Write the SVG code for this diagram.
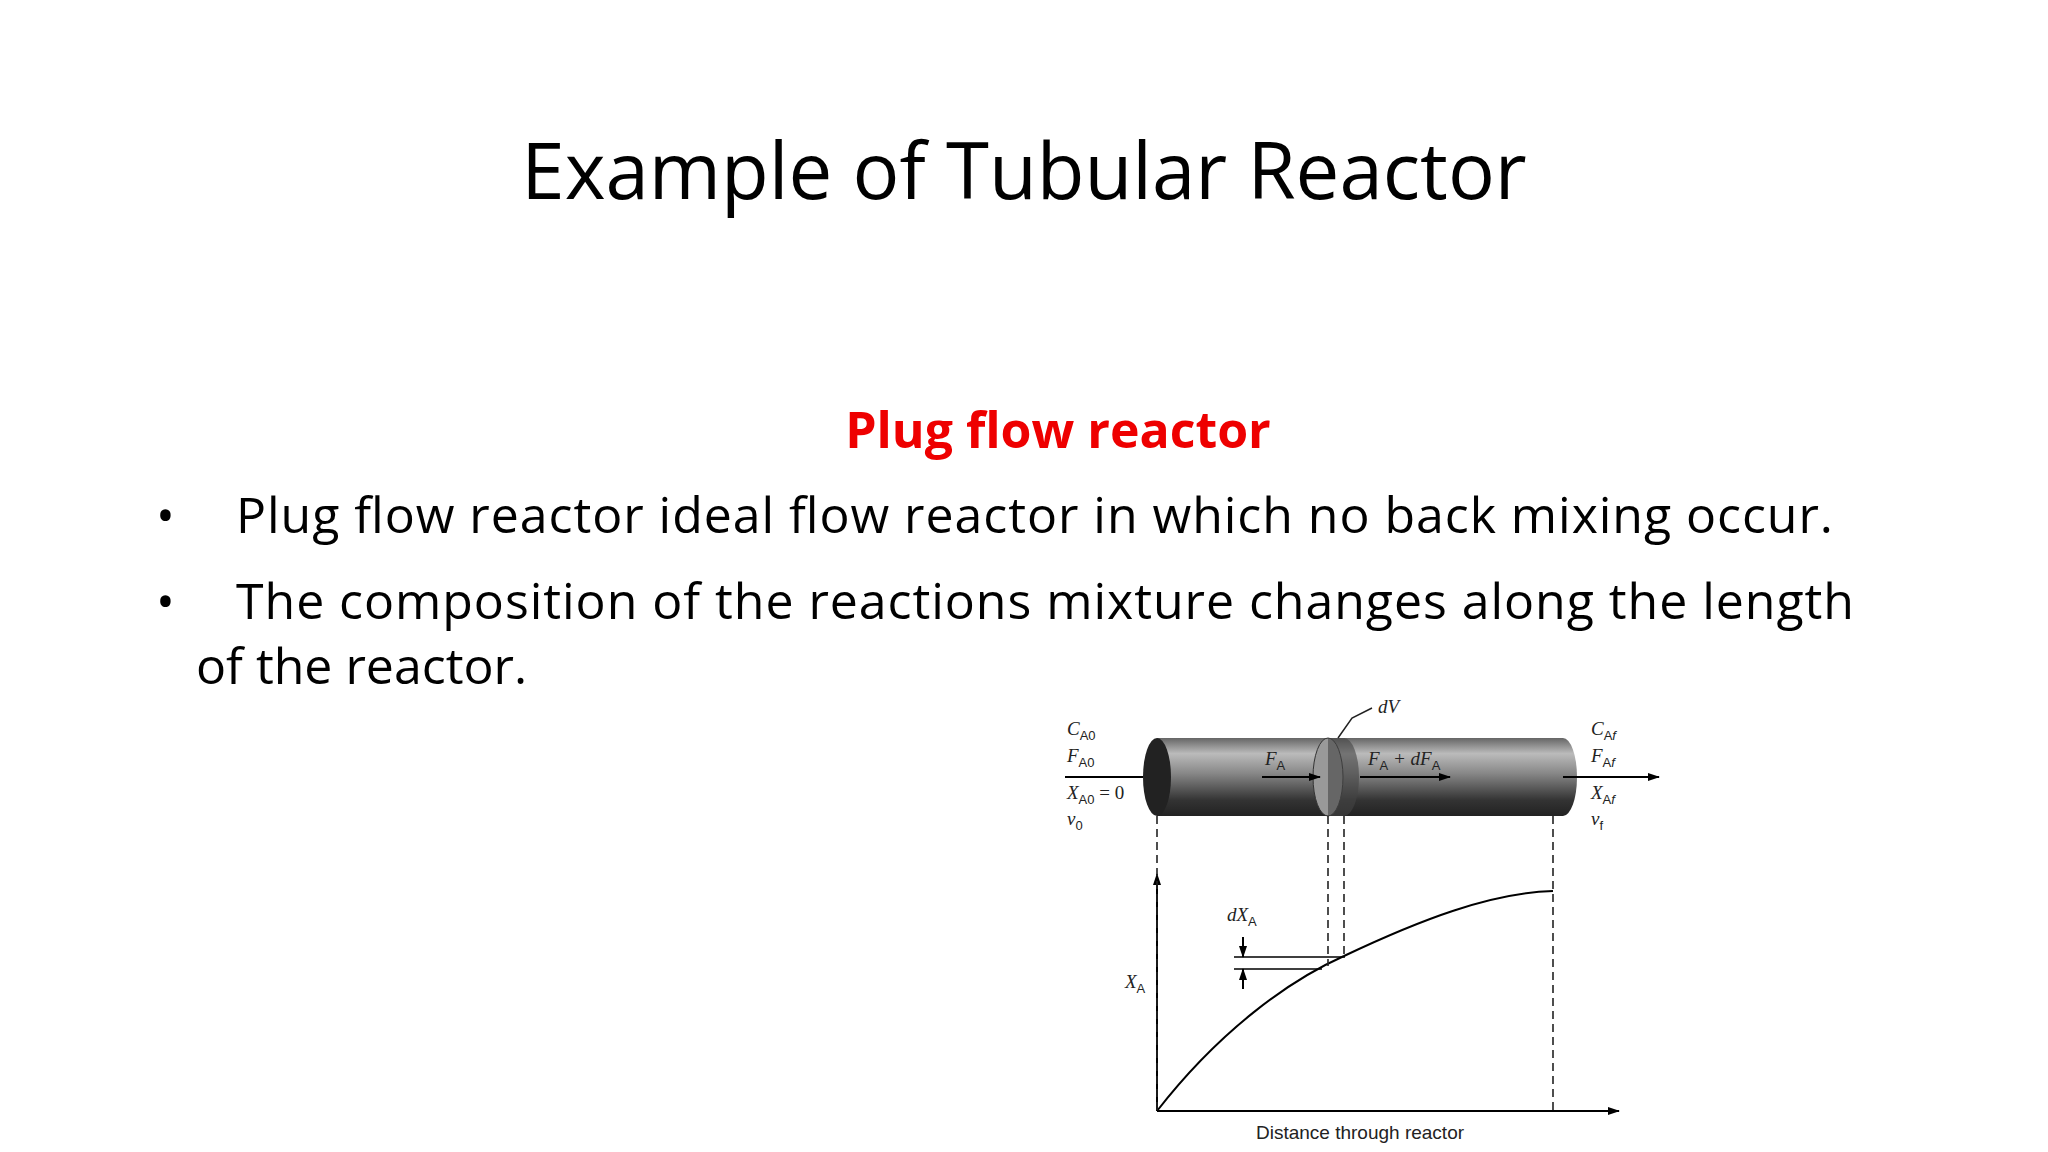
<svg xmlns="http://www.w3.org/2000/svg" width="2048" height="1152" viewBox="0 0 2048 1152">
<defs>
<linearGradient id="tube" x1="0" y1="0" x2="0" y2="1">
<stop offset="0" stop-color="#666"/><stop offset="0.2" stop-color="#bbb"/><stop offset="0.45" stop-color="#888"/><stop offset="0.8" stop-color="#333"/><stop offset="1" stop-color="#222"/>
</linearGradient>
<marker id="ah" markerWidth="12" markerHeight="8" refX="11" refY="4" orient="auto" markerUnits="userSpaceOnUse"><path d="M0,0 L12,4 L0,8 Z" fill="#000"/></marker>
<style>
.t{font-family:"Open Sans","Liberation Sans",sans-serif;fill:#000}
.m{font-family:"Liberation Serif",serif;font-style:italic;font-size:19px;fill:#222}
.s{font-size:13px;font-style:normal;font-family:"Liberation Sans",sans-serif}
.ln{stroke:#000;stroke-width:2;fill:none}
.d{stroke:#222;stroke-width:1.6;stroke-dasharray:8,5;fill:none}
</style>
</defs>
<rect width="2048" height="1152" fill="#fff"/>
<g id="title"><text class="t" x="1024" y="199" font-size="78" text-anchor="middle">Example of Tubular Reactor</text></g>
<g id="subtitle"><text x="1058" y="448" font-family="Open Sans,Liberation Sans,sans-serif" font-weight="bold" font-size="50" fill="#ee0000" text-anchor="middle">Plug flow reactor</text></g>
<g id="bullets">
<text class="t" x="156" y="533" font-size="50">•</text>
<text class="t" x="236" y="533" font-size="50" textLength="1597">Plug flow reactor ideal flow reactor in which no back mixing occur.</text>
<text class="t" x="156" y="619" font-size="50">•</text>
<text class="t" x="236" y="619" font-size="50" textLength="1618">The composition of the reactions mixture changes along the length</text>
<text class="t" x="196" y="684" font-size="50">of the reactor.</text>
</g>
<g id="reactor">
<path d="M1157,738 L1563,738 A14,39 0 0 1 1563,816 L1157,816 Z" fill="url(#tube)"/>
<ellipse cx="1157" cy="777" rx="14" ry="39" fill="#222"/>
<ellipse cx="1328" cy="777" rx="15" ry="39" fill="#999" stroke="#333"/>
<path d="M1328,738 L1344,738 A15,39 0 0 1 1344,816 L1328,816" fill="#444" opacity="0.6"/>
<path d="M1065,777 L1143,777" class="ln"/>
<path d="M1563,777 L1659,777" class="ln" marker-end="url(#ah)"/>
<path d="M1262,777 L1320,777" class="ln" marker-end="url(#ah)"/>
<path d="M1360,777 L1450,777" class="ln" marker-end="url(#ah)"/>
<text class="m" x="1265" y="765">F<tspan class="s" dy="5">A</tspan></text>
<text class="m" x="1368" y="765">F<tspan class="s" dy="5">A</tspan><tspan dy="-5"> + dF</tspan><tspan class="s" dy="5">A</tspan></text>
<path d="M1338,738 L1352,718 L1372,708" stroke="#222" stroke-width="1.5" fill="none"/>
<text class="m" x="1378" y="713">dV</text>
</g>
<g id="labels">
<text class="m" x="1067" y="735">C<tspan class="s" dy="5">A0</tspan></text>
<text class="m" x="1067" y="762">F<tspan class="s" dy="5">A0</tspan></text>
<text class="m" x="1067" y="799">X<tspan class="s" dy="5">A0</tspan><tspan dy="-5" font-style="normal"> = 0</tspan></text>
<text class="m" x="1067" y="825">v<tspan class="s" dy="5">0</tspan></text>
<text class="m" x="1591" y="735">C<tspan class="s" dy="5">A<tspan font-style="italic">f</tspan></tspan></text>
<text class="m" x="1591" y="762">F<tspan class="s" dy="5">A<tspan font-style="italic">f</tspan></tspan></text>
<text class="m" x="1591" y="799">X<tspan class="s" dy="5">A<tspan font-style="italic">f</tspan></tspan></text>
<text class="m" x="1591" y="825">v<tspan class="s" dy="5" font-style="italic">f</tspan></text>
</g>
<g id="plot">
<path d="M1157,1111 L1157,874" class="ln" marker-end="url(#ah)"/>
<path d="M1157,1111 L1619,1111" class="ln" marker-end="url(#ah)"/>
<path d="M1157,1111 C1220,1030 1290,980 1344,956 C1420,920 1490,893 1553,891" class="ln" stroke-width="2.6"/>
<path d="M1157,816 V1111 M1328,816 V966 M1344,816 V956 M1553,816 V1111" class="d"/>
<path d="M1234,957 H1345 M1234,969 H1322" stroke="#000" stroke-width="1.5"/>
<path d="M1243,937 V957" class="ln" stroke-width="1.5" marker-end="url(#ah)"/>
<path d="M1243,989 V969" class="ln" stroke-width="1.5" marker-end="url(#ah)"/>
<text class="m" x="1227" y="921">dX<tspan class="s" dy="5">A</tspan></text>
<text class="m" x="1125" y="988">X<tspan class="s" dy="5">A</tspan></text>
<text x="1360" y="1139" font-family="Liberation Sans,sans-serif" font-size="19" fill="#222" text-anchor="middle">Distance through reactor</text>
</g>
</svg>
